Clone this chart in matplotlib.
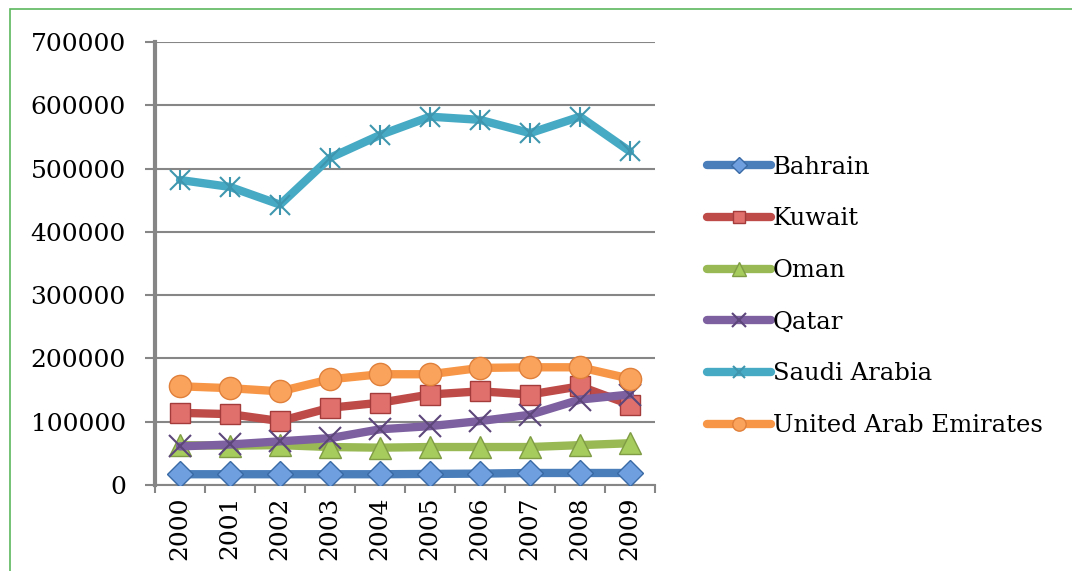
import matplotlib
matplotlib.use("Agg")
import matplotlib.pyplot as plt
from matplotlib.patches import Rectangle

years = ["2000", "2001", "2002", "2003", "2004", "2005", "2006", "2007", "2008", "2009"]
bahrain = [17000, 17000, 17000, 17000, 17000, 17500, 18000, 19000, 19000, 19000]
kuwait = [114000, 112000, 101000, 122000, 130000, 143000, 148000, 143000, 156000, 127000]
oman = [63000, 62000, 63000, 60000, 59000, 60000, 60000, 60000, 63000, 66000]
qatar = [61000, 64000, 69000, 74000, 88000, 93000, 101000, 111000, 135000, 143000]
saudi = [482000, 471000, 443000, 517000, 553000, 582000, 577000, 556000, 582000, 527000]
uae = [156000, 153000, 148000, 167000, 175000, 175000, 185000, 186000, 186000, 168000]
names = ["Bahrain", "Kuwait", "Oman", "Qatar", "Saudi Arabia", "United Arab Emirates"]
yticks = [0, 100000, 200000, 300000, 400000, 500000, 600000, 700000]

plt.rcParams['font.family'] = ['DejaVu Serif']

fig = plt.figure(figsize=(10.72, 5.71), dpi=100)
fig.patches.append(Rectangle((10/1072, -0.05), 1.2, 1 - 9/571 + 0.05, transform=fig.transFigure,
                             fill=False, edgecolor='#5cb85c', linewidth=1.2, zorder=0))
ax = fig.add_axes([155/1072, 1 - 485/571, 500/1072, 443/571])

x = list(range(len(years)))
lw = 6
series = [
    (bahrain, '#4a7ebb', 'D', '#6f9fde', '#3a6aa5', 13, 1.0),
    (kuwait, '#be4b48', 's', '#e0706c', '#a33c3a', 15, 1.0),
    (oman, '#98b954', '^', '#a6cc5e', '#7f9c44', 16, 1.0),
    (qatar, '#7d60a0', 'x', '#7d60a0', '#5c467a', 16, 1.5),
    (saudi, '#46aac5', 'x', '#46aac5', '#3e96ae', 15, 1.5),
    (uae, '#f79646', 'o', '#f9a35c', '#e0803a', 16, 1.0),
]
handles = []
for (vals, c, m, fc, ec, ms, mew), name in zip(series, names):
    h, = ax.plot(x, vals, color=c, linewidth=lw, marker=m, markersize=ms,
                 markerfacecolor=fc, markeredgecolor=ec, markeredgewidth=mew,
                 solid_capstyle='round', label=name, zorder=3)
    if name == "Saudi Arabia":
        ax.plot(x, vals, linestyle='none', marker='|', markersize=ms, markeredgecolor=ec,
                markeredgewidth=1.5, zorder=4)
    handles.append(h)

ax.set_xlim(-0.5, 9.5)
ax.set_ylim(0, 700000)
ax.set_yticks(yticks)
ax.set_yticklabels([str(v) for v in yticks], fontsize=18)
ax.set_xticks(x)
ax.set_xticklabels(years, rotation=90, fontsize=18)
ax.set_xticks([i - 0.5 for i in range(11)], minor=True)
ax.tick_params(axis='x', which='major', length=0, pad=8)
ax.tick_params(axis='x', which='minor', length=6, width=1.5, color='#868686', direction='out')
ax.tick_params(axis='y', length=7, width=1.5, color='#868686', pad=14)
ax.grid(axis='y', color='#868686', linewidth=1.5, zorder=0)
for s in ['top', 'right']:
    ax.spines[s].set_visible(False)
ax.spines['left'].set_color('#868686')
ax.spines['left'].set_linewidth(3)
ax.spines['bottom'].set_color('#868686')
ax.spines['bottom'].set_linewidth(1.5)
ax.set_axisbelow(True)

fig.legend(handles=handles, labels=names, loc='upper left',
           bbox_to_anchor=(697/1072, 1 - 146/571), frameon=False, fontsize=17.5,
           handlelength=2.65, handletextpad=0.08, labelspacing=1.18, borderaxespad=0,
           markerscale=0.6)

fig.savefig("out.png", dpi=100)
